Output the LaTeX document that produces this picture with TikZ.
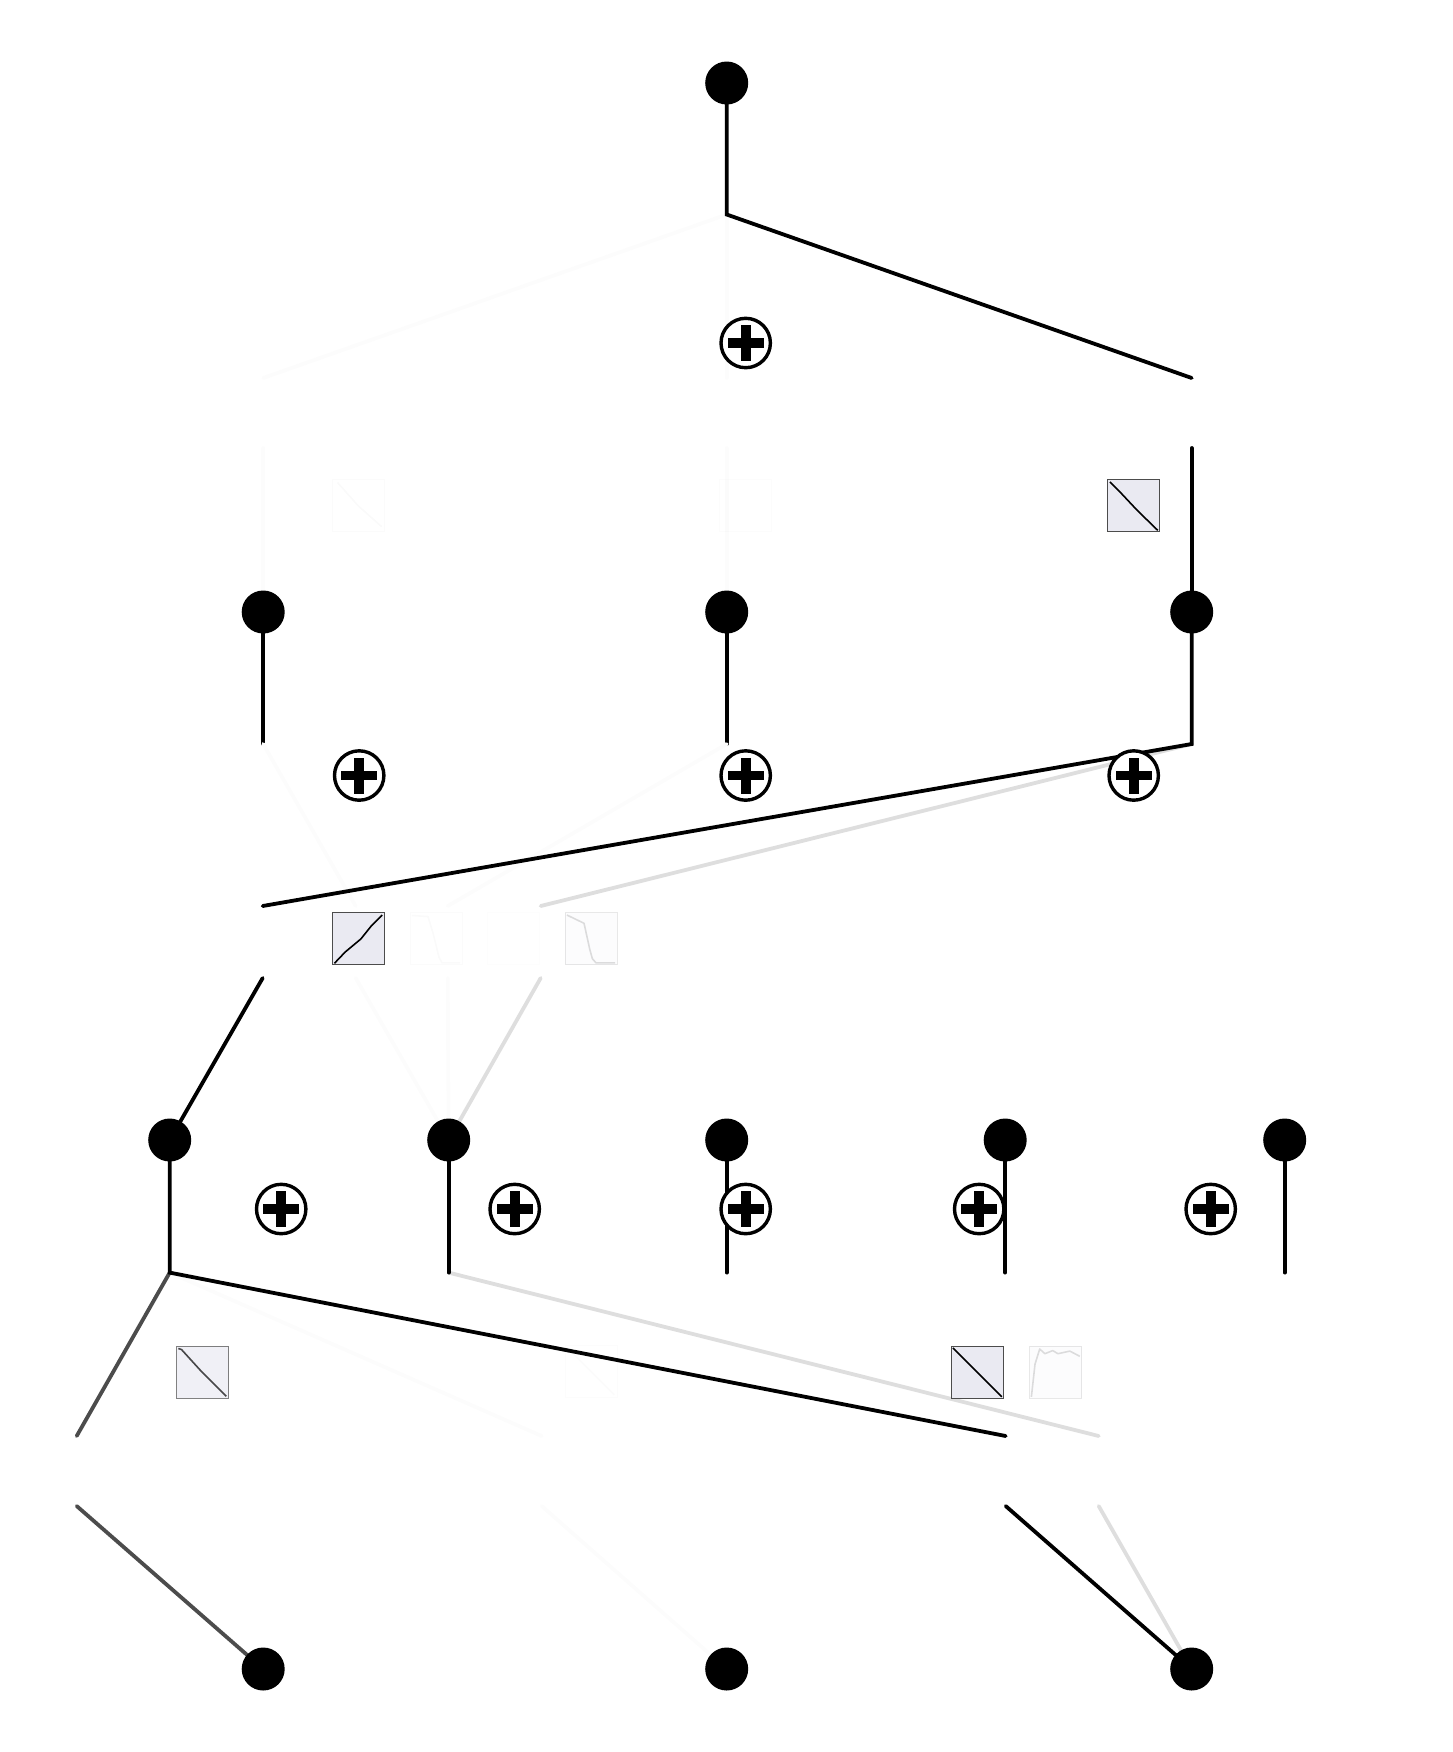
\documentclass[tikz,border=0pt]{standalone}
\usepackage{tikz}
\usetikzlibrary{backgrounds}
\definecolor{boxfill}{HTML}{EAEAF2}
\tikzset{
	dot/.style={circle, fill=black, minimum size=21.5pt, inner sep=0pt},
	plusnode/.style={circle, draw=black, line width=1.7pt, fill=white, minimum size=24.7pt, inner sep=0pt,
		path picture={
			\fill[black] ([xshift=-9pt,yshift=-2.4pt]path picture bounding box.center) rectangle ([xshift=9pt,yshift=2.4pt]path picture bounding box.center);
			\fill[black] ([xshift=-2.4pt,yshift=-9pt]path picture bounding box.center) rectangle ([xshift=2.4pt,yshift=9pt]path picture bounding box.center);
		}},
	funbox/.style={rectangle, draw=black!70, fill=boxfill, line width=0.4pt, minimum size=26pt, inner sep=0pt},
	edge/.style={line width=1.9pt, line cap=round, line join=miter},
	strong/.style={edge, black},
	medium/.style={edge, black!70},
	pale/.style={edge, black!13},
	faint/.style={edge, black!1.3}
}

\begin{document}
\begin{tikzpicture}[x=0.5pt, y=-0.5pt]
	\useasboundingbox (-0.7,0) rectangle (1451.3,1752);

	\node[dot] (top) at (726,83) {};
	\foreach \nname/\nx in {ma/262.5, mb/726, mc/1191}
		\node[dot] (\nname) at (\nx,612) {};
	\foreach \nname/\nx in {ra/169, rb/448, rc/726, rd/1004.5, re/1284}
		\node[dot] (\nname) at (\nx,1140) {};
	\foreach \nname/\nx in {ba/262.5, bb/726, bc/1191}
		\node[dot] (\nname) at (\nx,1669) {};

	\coordinate (topjoin) at (726,214.5);
	\coordinate (majoin) at (262.5,744);
	\coordinate (mbjoin) at (726,744);
	\coordinate (mcjoin) at (1191,744);
	\coordinate (rajoin) at (169,1272.6);
	\coordinate (rbjoin) at (448,1272.6);
	\coordinate (rcjoin) at (726,1272.6);
	\coordinate (rdjoin) at (1004.5,1272.6);
	\coordinate (rejoin) at (1284,1272.6);

	\coordinate (ina) at (262.5,378);
	\coordinate (inb) at (726,378);
	\coordinate (inc) at (1191,378);
	\coordinate (outa) at (262.5,448);
	\coordinate (outb) at (726,448);
	\coordinate (outc) at (1191,448);

	\coordinate (ina2) at (355,906);
	\coordinate (outa2) at (355,978);
	\coordinate (inb2) at (447,906);
	\coordinate (outb2) at (447,978);
	\coordinate (inc2) at (262,906);
	\coordinate (outc2) at (262,978);
	\coordinate (ind2) at (540,906);
	\coordinate (outd2) at (540,978);

	\coordinate (ina3) at (76,1436);
	\coordinate (outa3) at (76,1506);
	\coordinate (inb3) at (541,1436);
	\coordinate (outb3) at (541,1506);
	\coordinate (inc3) at (1005,1436);
	\coordinate (outc3) at (1005,1506);
	\coordinate (ind3) at (1098,1436);
	\coordinate (outd3) at (1098,1506);

	\begin{scope}[on background layer]
		\draw[faint] (topjoin) -- (ina);
		\draw[faint] (topjoin) -- (inb);
		\draw[faint] (outa) -- (ma.center);
		\draw[faint] (outb) -- (mb.center);
		\draw[strong] (top.center) -- (topjoin) -- (inc);
		\draw[strong] (outc) -- (mc.center);

		\draw[strong] (ma.center) -- (majoin);
		\draw[strong] (mb.center) -- (mbjoin);

		\draw[faint] (majoin) -- (ina2);
		\draw[faint] (outa2) -- (rb.center);
		\draw[faint] (mbjoin) -- (inb2);
		\draw[faint] (outb2) -- (rb.center);
		\draw[pale] (mcjoin) -- (ind2);
		\draw[pale] (outd2) -- (rb.center);
		\draw[strong] (mc.center) -- (mcjoin) -- (inc2);
		\draw[strong] (outc2) -- (ra.center);

		\draw[faint] (rajoin) -- (inb3);
		\draw[faint] (outb3) -- (bb.center);
		\draw[pale] (rbjoin) -- (ind3);
		\draw[pale] (outd3) -- (bc.center);
		\draw[medium] (rajoin) -- (ina3);
		\draw[medium] (outa3) -- (ba.center);
		\draw[strong] (ra.center) -- (rajoin) -- (inc3);
		\draw[strong] (outc3) -- (bc.center);
		\draw[strong] (rb.center) -- (rbjoin);
		\draw[strong] (rc.center) -- (rcjoin);
		\draw[strong] (rd.center) -- (rdjoin);
		\draw[strong] (re.center) -- (rejoin);
	\end{scope}

	\foreach \bname/\bx/\by/\bop/\bcurve in {
		boxa/358/505.5/0.02/{(0.1,0.95) -- (0.5,0.5) -- (0.95,0.1)},
		boxb/745/505.5/0.015/{},
		boxc/1133/505.5/1/{(0.05,0.96) -- (0.27,0.74) -- (0.57,0.42) -- (0.97,0.03)},
		boxd/358/938.5/1/{(0.04,0.03) -- (0.25,0.25) -- (0.55,0.5) -- (0.75,0.75) -- (0.96,0.96)},
		boxe/435.5/938.5/0.02/{(0.04,0.95) -- (0.35,0.93) -- (0.45,0.6) -- (0.56,0.15) -- (0.62,0.04) -- (0.97,0.04)},
		boxf/513/938.5/0.01/{},
		boxg/590.5/938.5/0.13/{(0.04,0.96) -- (0.37,0.8) -- (0.48,0.3) -- (0.53,0.12) -- (0.6,0.04) -- (0.97,0.04)},
		boxh/202/1372/0.7/{(0.04,0.96) -- (0.1,0.94) -- (0.5,0.5) -- (0.96,0.04)},
		boxi/590.5/1371/0.015/{(0.05,0.95) -- (0.5,0.5) -- (0.95,0.05)},
		boxj/977/1372/1/{(0.03,0.97) -- (0.5,0.5) -- (0.97,0.03)},
		boxk/1055/1372/0.13/{(0.04,0.03) -- (0.11,0.66) -- (0.2,0.95) -- (0.3,0.86) -- (0.45,0.92) -- (0.55,0.86) -- (0.78,0.91) -- (0.97,0.81)}
	}{
		\node[funbox, opacity=\bop] (\bname) at (\bx,\by) {};
		\draw[black, line width=0.8pt, line join=round, opacity=\bop, shift={(\bname.south west)}, x=26pt, y=26pt] \bcurve;
	}

	\node[plusnode] (plustop) at (745,343) {};
	\foreach \pname/\px in {plusa/358.5, plusb/745, plusc/1133}
		\node[plusnode] (\pname) at (\px,775.5) {};
	\foreach \pname/\px in {plusd/280.5, pluse/514, plusf/745, plusg/978.5, plush/1210}
		\node[plusnode] (\pname) at (\px,1209) {};
\end{tikzpicture}
\end{document}
